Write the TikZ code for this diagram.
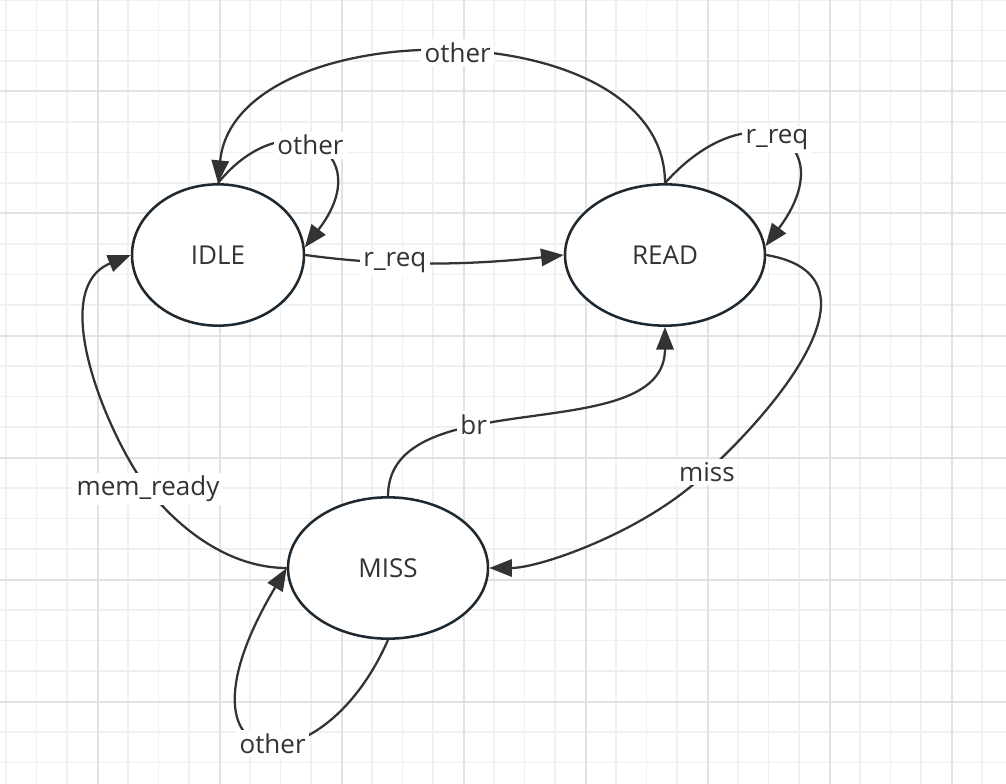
\documentclass[tikz,border=0pt]{standalone}
\usepackage{fontspec}
\setmainfont{Open Sans}
\usetikzlibrary{shapes.geometric,arrows.meta}

\definecolor{stroke}{HTML}{1E2830}
\definecolor{edge}{HTML}{333333}
\definecolor{ink}{HTML}{333333}
\definecolor{gridminor}{HTML}{F0F0F0}
\definecolor{gridmajor}{HTML}{E2E2E2}

\begin{document}
\begin{tikzpicture}[x=0.75pt,y=-0.75pt,
    font=\fontsize{19.5pt}{23pt}\selectfont,
    state/.style={ellipse,draw=stroke,line width=1.9pt,fill=white,inner sep=0pt,minimum height=106pt,text=ink},
    trans/.style={draw=edge,line width=1.7pt,-{Triangle[length=17pt,width=13pt]}},
    lbl/.style={fill=white,inner sep=2.5pt,text=ink}]

    \fill[white] (0,0) rectangle (1006,784);
    \useasboundingbox (0,0) rectangle (1006,784);

    % grid
    \foreach \i in {0,...,32}
        \draw[gridminor,line width=1.1pt] ({6+30.5*\i},0) -- ({6+30.5*\i},784);
    \foreach \j in {0,...,25}
        \draw[gridminor,line width=1.1pt] (0,{30.5*\j}) -- (1006,{30.5*\j});
    \foreach \i in {3,7,...,31}
        \draw[gridmajor,line width=1.5pt] ({6+30.5*\i},0) -- ({6+30.5*\i},784);
    \foreach \j in {3,7,...,23}
        \draw[gridmajor,line width=1.5pt] (0,{30.5*\j}) -- (1006,{30.5*\j});

    % states
    \node[state,minimum width=129pt] (idle) at (218,255) {IDLE};
    \node[state,minimum width=150pt] (read) at (665,255) {READ};
    \node[state,minimum width=150pt] (miss) at (388,568) {MISS};

    % transitions
    \draw[trans] (idle.east) .. controls (400,268) and (480,264) .. (read.west)
        node[lbl,pos=0.33] {r\_req};
    \draw[trans] (read.north) .. controls (665,8) and (235,10) .. (idle.north)
        node[lbl,pos=0.485] {other};
    \draw[trans] (idle.north) .. controls (285,100) and (380,150) .. (idle.5)
        node[lbl,pos=0.47] {other};
    \draw[trans] (read.north) .. controls (750,88) and (845,140) .. (read.5)
        node[lbl,pos=0.5] {r\_req};
    \draw[trans] (read.east) .. controls (885,275) and (785,400) .. (707,472)
        node[lbl] {miss} .. controls (647,531) and (540,568) .. (miss.east);
    \draw[trans] (miss.north) .. controls (388,380) and (665,450) .. (read.south)
        node[lbl,pos=0.37] {br};
    \draw[trans] (miss.west) .. controls (230,568) and (180,530) .. (148,489)
        node[lbl] {mem\_ready} .. controls (110,440) and (45,290) .. (idle.west);
    \draw[trans] (miss.south) .. controls (320,795) and (160,780) .. (miss.west)
        node[lbl,pos=0.46] {other};

\end{tikzpicture}
\end{document}
